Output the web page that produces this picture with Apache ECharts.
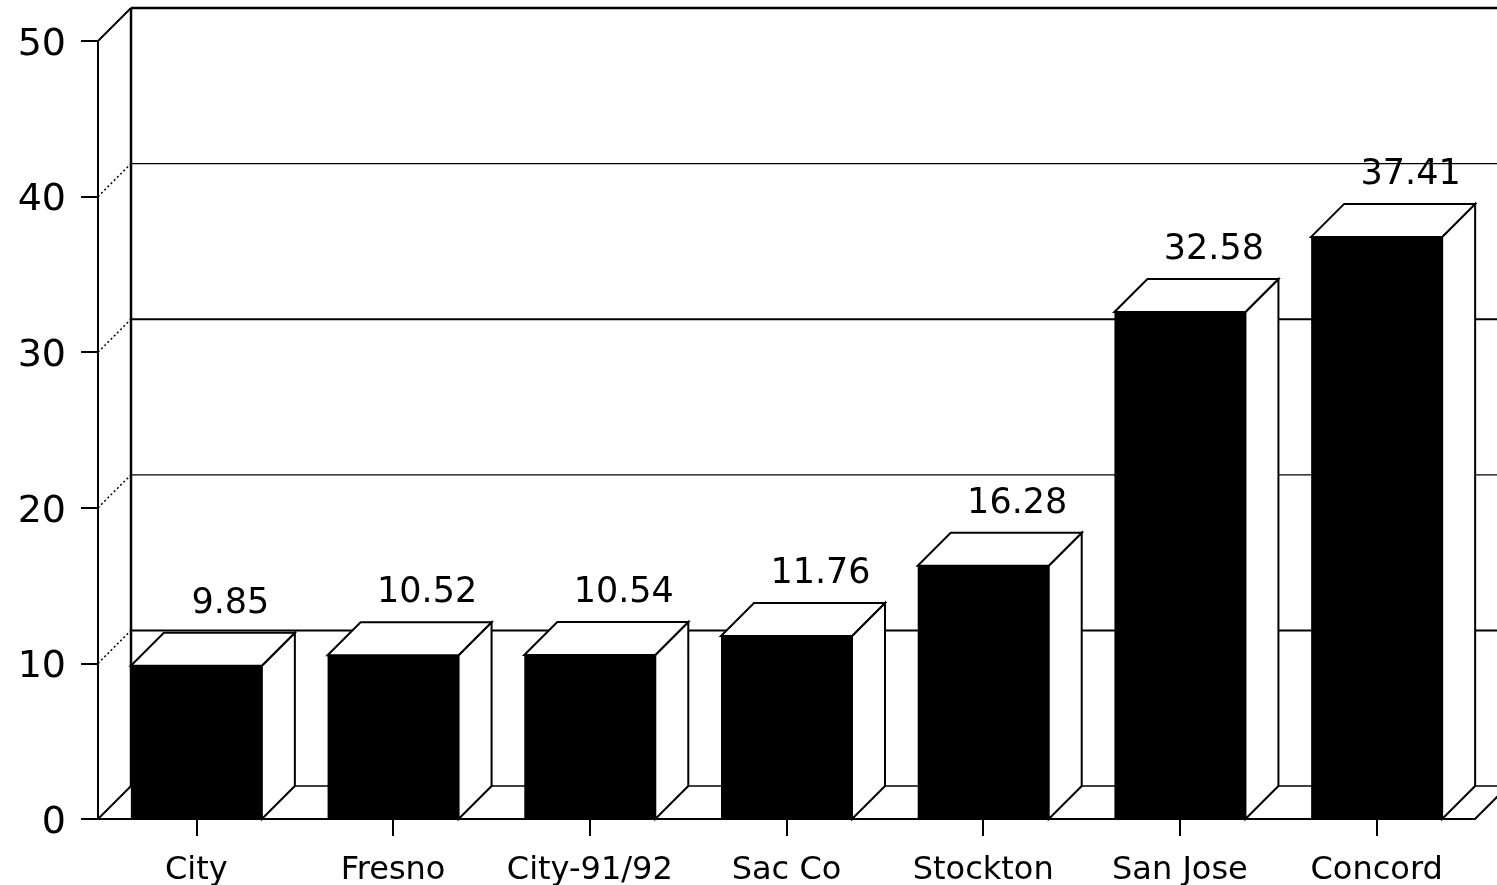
<!DOCTYPE html>
<html>
<head>
<meta charset="utf-8">
<style>html,body{margin:0;padding:0;background:#fff}#c{width:1497px;height:885px}</style>
<script src="https://cdn.jsdelivr.net/npm/echarts@6/dist/echarts.min.js"></script>
</head>
<body>
<div id="c"></div>
<script>
const categories = ['City', 'Fresno', 'City-91/92', 'Sac Co', 'Stockton', 'San Jose', 'Concord'];
const values = [9.85, 10.52, 10.54, 11.76, 16.28, 32.58, 37.41];
const valueLabels = ['9.85', '10.52', '10.54', '11.76', '16.28', '32.58', '37.41'];
const yTicks = [0, 10, 20, 30, 40, 50];
const heavyGrid = [10, 30];

const DEPTH = 33, BAR_W = 131, LABEL_DX = 34, LABEL_DY = 62;

function renderWall(params, api) {
  const v = api.value(1);
  const cs = params.coordSys;
  const y = api.coord([0, v])[1];
  const x0 = cs.x, x1 = cs.x + cs.width;
  const solid = v === 0 || v === 50;
  const kids = [];
  kids.push({ type: 'line', shape: { x1: x0, y1: y, x2: x0 + DEPTH, y2: y - DEPTH },
    style: { stroke: '#000', lineWidth: solid ? 2 : 1.5, lineDash: solid ? null : [2, 2.5] } });
  kids.push({ type: 'line', shape: { x1: x0 + DEPTH, y1: y - DEPTH, x2: x1 + DEPTH, y2: y - DEPTH },
    style: { stroke: '#000', lineWidth: (v === 50 ? 2.5 : heavyGrid.includes(v) ? 2 : 1.3) } });
  if (v === 0) {
    kids.push({ type: 'line', shape: { x1: x0 + DEPTH, y1: y - DEPTH, x2: x0 + DEPTH, y2: api.coord([0, 50])[1] - DEPTH },
      style: { stroke: '#000', lineWidth: 2.5 } });
    kids.push({ type: 'line', shape: { x1: x1, y1: y, x2: x1 + DEPTH, y2: y - DEPTH },
      style: { stroke: '#000', lineWidth: 2 } });
  }
  return { type: 'group', children: kids };
}

function renderBar(params, api) {
  const i = api.value(0), v = api.value(1);
  const top = api.coord([i, v]), base = api.coord([i, 0]);
  const l = top[0] - BAR_W / 2, r = top[0] + BAR_W / 2, t = top[1], b = base[1];
  const edge = { fill: '#fff', stroke: '#000', lineWidth: 2, lineJoin: 'miter' };
  return { type: 'group', children: [
    { type: 'polygon', shape: { points: [[r, b], [r + DEPTH, b - DEPTH], [r + DEPTH, t - DEPTH], [r, t]] }, style: edge },
    { type: 'polygon', shape: { points: [[l, t], [l + DEPTH, t - DEPTH], [r + DEPTH, t - DEPTH], [r, t]] }, style: edge },
    { type: 'rect', shape: { x: l, y: t, width: BAR_W, height: b - t }, style: { fill: '#000' } },
    { type: 'text', style: { text: valueLabels[params.dataIndex], x: top[0] + LABEL_DX, y: t - LABEL_DY,
      fill: '#000', fontFamily: 'DejaVu Sans', fontSize: 35, align: 'center', verticalAlign: 'middle' } }
  ] };
}

const chart = echarts.init(document.getElementById('c'), null, { renderer: 'canvas' });
chart.setOption({
  animation: false,
  backgroundColor: '#fff',
  grid: { left: 98, top: 41, width: 1377, height: 778, containLabel: false, outerBoundsMode: 'none' },
  xAxis: {
    type: 'category', data: categories,
    axisLine: { show: true, lineStyle: { color: '#000', width: 2 } },
    axisTick: { show: true, alignWithLabel: true, length: 17, lineStyle: { color: '#000', width: 2 } },
    axisLabel: { color: '#000', fontFamily: 'DejaVu Sans', fontSize: 32, margin: 36, interval: 0 },
    splitLine: { show: false }
  },
  yAxis: {
    type: 'value', min: 0, max: 50, interval: 10,
    axisLine: { show: true, lineStyle: { color: '#000', width: 2 } },
    axisTick: { show: true, length: 17, lineStyle: { color: '#000', width: 2 } },
    axisLabel: { color: '#000', margin: 32, formatter: '{v|{value}}',
      rich: { v: { color: '#000', fontFamily: 'DejaVu Sans', fontSize: 38, padding: [8, 0, 0, 0] } } },
    splitLine: { show: false }
  },
  series: [
    { type: 'custom', silent: true, z: 1, clip: false, renderItem: renderWall,
      data: yTicks.map(v => [0, v]), encode: { x: 0, y: 1 } },
    { type: 'custom', silent: true, z: 3, clip: false, renderItem: renderBar,
      data: values.map((v, i) => [i, v]), encode: { x: 0, y: 1 } }
  ]
});
</script>
</body>
</html>
